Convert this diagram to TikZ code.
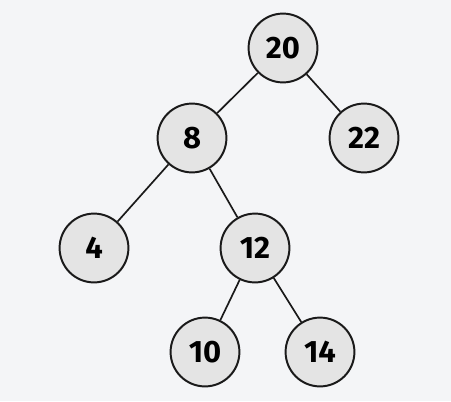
\documentclass[tikz,border=0pt]{standalone}
\usepackage{fontspec}
\setsansfont{Fira Sans}
\definecolor{bgcol}{HTML}{F4F5F7}
\definecolor{keyfill}{HTML}{E4E4E4}
\definecolor{keyline}{HTML}{1A1A1A}
\begin{document}
\begin{tikzpicture}[x=0.025cm,y=-0.025cm,
    key/.style={circle,draw=keyline,fill=keyfill,line width=1.4pt,minimum size=1.72cm,inner sep=0pt,font=\sffamily\bfseries\fontsize{22}{22}\selectfont},
    every edge/.style={draw=keyline,line width=1.2pt}]
  \fill[bgcol] (0,0) rectangle (451,401);
  \useasboundingbox (0,0) rectangle (451,401);
  \path node[key] (K20) at (283,48) {20}
        node[key] (K8) at (192,138) {8}
        node[key] (K22) at (364,138) {22}
        node[key] (K4) at (94,248) {4}
        node[key] (K12) at (255,248) {12}
        node[key] (K10) at (205,352) {10}
        node[key] (K14) at (320,352) {14};
  \path (K20) edge (K8) (K20) edge (K22)
        (K8) edge (K4) (K8) edge (K12)
        (K12) edge (K10) (K12) edge (K14);
\end{tikzpicture}
\end{document}
